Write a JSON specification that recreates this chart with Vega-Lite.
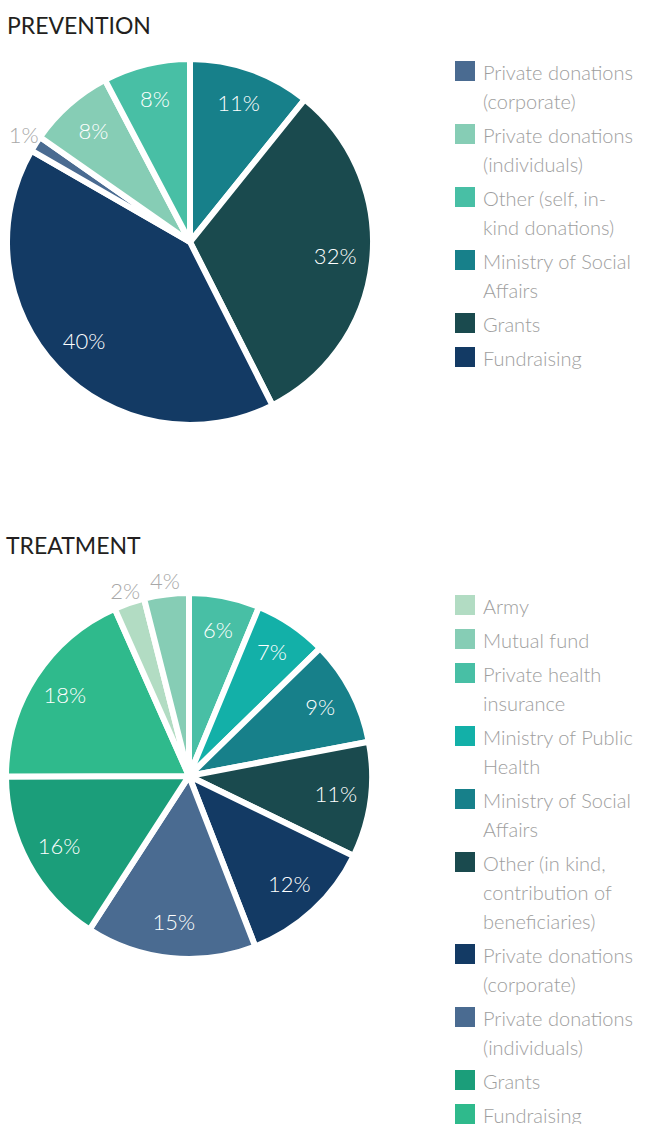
{
  "$schema": "https://vega.github.io/schema/vega-lite/v6.json",
  "background": "white",
  "padding": {"left": -6, "top": 15, "right": 0, "bottom": 0},
  "spacing": 94,
  "resolve": {"scale": {"color": "independent", "theta": "independent"}, "legend": {"color": "independent"}},
  "config": {
    "view": {"stroke": null},
    "font": "Lato",
    "style": {"guide-label": {"lineHeight": 29, "dy": 9}},
    "title": {"anchor": "start", "fontSize": 23, "fontWeight": "normal", "color": "#231f20", "font": "Lato", "dx": 12},
    "legend": {
      "title": null,
      "orient": "none",
      "padding": 0,
      "symbolType": "square",
      "symbolSize": 400,
      "symbolStrokeWidth": 0,
      "symbolOpacity": 1,
      "labelFont": "Lato",
      "labelFontSize": 20,
      "labelFontWeight": 300,
      "labelColor": "#9e9e9e",
      "labelOffset": 8,
      "labelLimit": 400,
      "labelBaseline": "alphabetic",
      "rowPadding": 11
    }
  },
  "vconcat": [
    {
      "title": {"text": "PREVENTION", "offset": 1},
      "width": 378,
      "height": 400,
      "data": {
        "values": [
          {"source": "Ministry of Social Affairs", "share": 10.8, "label": "11%", "rank": 1},
          {"source": "Grants", "share": 31.8, "label": "32%", "rank": 2},
          {"source": "Fundraising", "share": 40.8, "label": "40%", "rank": 3},
          {"source": "Private donations (corporate)", "share": 1.4, "label": "1%", "rank": 4},
          {"source": "Private donations (individuals)", "share": 7.6, "label": "8%", "rank": 5},
          {"source": "Other (self, in-kind donations)", "share": 7.7, "label": "8%", "rank": 6}
        ]
      },
      "encoding": {
        "theta": {"field": "share", "type": "quantitative", "stack": true},
        "order": {"field": "rank", "type": "quantitative"}
      },
      "layer": [
        {
          "mark": {"type": "arc", "outerRadius": 183, "stroke": "white", "strokeWidth": 6},
          "encoding": {
            "color": {
              "field": "source",
              "type": "nominal",
              "scale": {
                "domain": ["Private donations (corporate)", "Private donations (individuals)", "Other (self, in-kind donations)", "Ministry of Social Affairs", "Grants", "Fundraising"],
                "range": ["#4a6b91", "#86cdb5", "#48bfa5", "#17808a", "#1a4a4e", "#133a64"]
              },
              "legend": {
                "legendX": 454,
                "legendY": 19,
                "labelExpr": "datum.label == 'Private donations (corporate)' ? ['Private donations', '(corporate)'] : datum.label == 'Private donations (individuals)' ? ['Private donations', '(individuals)'] : datum.label == 'Other (self, in-kind donations)' ? ['Other (self, in-', 'kind donations)'] : datum.label == 'Ministry of Social Affairs' ? ['Ministry of Social', 'Affairs'] : datum.label"
              }
            }
          }
        },
        {
          "mark": {"type": "text", "radius": 146, "fontSize": 22, "fontWeight": 300, "font": "Lato", "fill": "white"},
          "encoding": {
            "detail": {"field": "source"},
            "text": {"condition": {"test": "datum.share < 3", "value": ""}, "field": "label"}
          }
        },
        {
          "mark": {"type": "text", "radius": 197, "fontSize": 22, "fontWeight": 300, "font": "Lato", "fill": "#a8a8a8"},
          "encoding": {
            "detail": {"field": "source"},
            "text": {"condition": {"test": "datum.share >= 3", "value": ""}, "field": "label"}
          }
        }
      ]
    },
    {
      "title": {"text": "TREATMENT", "offset": 12},
      "width": 376,
      "height": 400,
      "data": {
        "values": [
          {"source": "Private health insurance", "share": 6.25, "label": "6%", "rank": 1},
          {"source": "Ministry of Public Health", "share": 6.45, "label": "7%", "rank": 2},
          {"source": "Ministry of Social Affairs", "share": 9.3, "label": "9%", "rank": 3},
          {"source": "Other (in kind, contribution of beneficiaries)", "share": 10.2, "label": "11%", "rank": 4},
          {"source": "Private donations (corporate)", "share": 11.9, "label": "12%", "rank": 5},
          {"source": "Private donations (individuals)", "share": 15.05, "label": "15%", "rank": 6},
          {"source": "Grants", "share": 15.8, "label": "16%", "rank": 7},
          {"source": "Fundraising", "share": 18.4, "label": "18%", "rank": 8},
          {"source": "Army", "share": 2.7, "label": "2%", "rank": 9},
          {"source": "Mutual fund", "share": 3.95, "label": "4%", "rank": 10}
        ]
      },
      "encoding": {
        "theta": {"field": "share", "type": "quantitative", "stack": true},
        "order": {"field": "rank", "type": "quantitative"}
      },
      "layer": [
        {
          "mark": {"type": "arc", "outerRadius": 183, "stroke": "white", "strokeWidth": 6},
          "encoding": {
            "color": {
              "field": "source",
              "type": "nominal",
              "scale": {
                "domain": ["Army", "Mutual fund", "Private health insurance", "Ministry of Public Health", "Ministry of Social Affairs", "Other (in kind, contribution of beneficiaries)", "Private donations (corporate)", "Private donations (individuals)", "Grants", "Fundraising"],
                "range": ["#b2dcc3", "#86cdb5", "#48bfa5", "#13b0a8", "#17808a", "#1a4a4e", "#133a64", "#4a6b91", "#1b9e7a", "#2fba8c"]
              },
              "legend": {
                "legendX": 454,
                "legendY": 19,
                "labelExpr": "datum.label == 'Private health insurance' ? ['Private health', 'insurance'] : datum.label == 'Ministry of Public Health' ? ['Ministry of Public', 'Health'] : datum.label == 'Ministry of Social Affairs' ? ['Ministry of Social', 'Affairs'] : datum.label == 'Other (in kind, contribution of beneficiaries)' ? ['Other (in kind,', 'contribution of', 'beneficiaries)'] : datum.label == 'Private donations (corporate)' ? ['Private donations', '(corporate)'] : datum.label == 'Private donations (individuals)' ? ['Private donations', '(individuals)'] : datum.label"
              }
            }
          }
        },
        {
          "mark": {"type": "text", "radius": 148, "fontSize": 22, "fontWeight": 300, "font": "Lato", "fill": "white"},
          "encoding": {
            "detail": {"field": "source"},
            "text": {"condition": {"test": "datum.share < 5", "value": ""}, "field": "label"}
          }
        },
        {
          "mark": {"type": "text", "radius": 195, "fontSize": 22, "fontWeight": 300, "font": "Lato", "fill": "#a8a8a8"},
          "encoding": {
            "detail": {"field": "source"},
            "text": {"condition": {"test": "datum.share >= 5", "value": ""}, "field": "label"}
          }
        }
      ]
    }
  ]
}
